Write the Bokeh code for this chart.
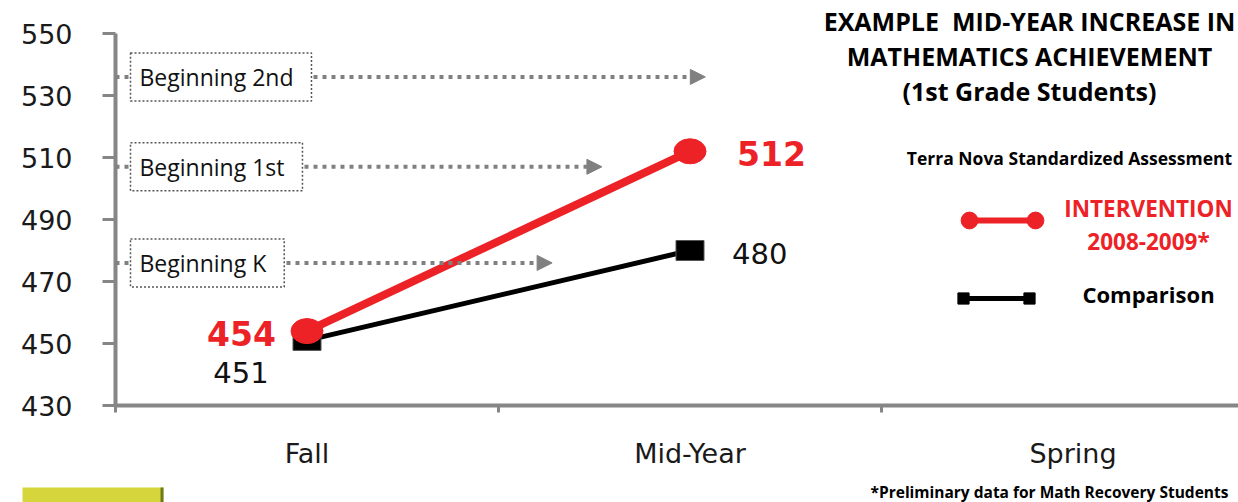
import numpy as np
from bokeh.plotting import figure
from bokeh.layouts import column
from bokeh.models import (FixedTicker, Label, Arrow, NormalHead, Legend, LegendItem, Range1d)
from bokeh.core.properties import value
from bokeh.embed import file_html
from bokeh.resources import INLINE

# ---- data ----
categories = ["Fall", "Mid-Year", "Spring"]
intervention = [454, 512]
comparison = [451, 480]
y_ticks = [430, 450, 470, 490, 510, 530, 550]
ref_labels = ["Beginning 2nd", "Beginning 1st", "Beginning K"]
ref_values = [536, 507, 476]
ref_arrow_end = [1.54, 1.27, 1.14]

RED = "#ed2227"
GRAY = "#808080"
AXG = "#868686"

cat_x = [i + 0.5 for i in range(len(categories))]
n = len(intervention)

# frame: left edge at 115 px, bottom (430) at 405 px, 550 at 33 px; frame reaches the top
W, H, STRIP = 1238, 480, 22
FRAME_LEFT = 115
px_per_unit = (405 - 33) / (y_ticks[-1] - y_ticks[0])
p = figure(width=W, height=H, output_backend="svg", toolbar_location=None,
           x_range=Range1d(0, (W - FRAME_LEFT) / 383),
           y_range=Range1d(y_ticks[0], y_ticks[-1] + 33 / px_per_unit),
           min_border_left=FRAME_LEFT, min_border_right=0, min_border_top=0,
           min_border_bottom=H - 405)
p.title = None
p.outline_line_color = None
p.xgrid.grid_line_color = None
p.ygrid.grid_line_color = None
p.background_fill_color = "white"
p.border_fill_color = "white"

# screen helpers (frame-relative)
def sx(px):
    return px - FRAME_LEFT

def sy(py):
    return 405 - py

# y axis
ya = p.yaxis[0]
ya.ticker = FixedTicker(ticks=y_ticks)
ya.bounds = (y_ticks[0], y_ticks[-1])
ya.axis_line_color = AXG
ya.axis_line_width = 4
ya.major_tick_line_color = AXG
ya.major_tick_line_width = 3
ya.major_tick_out = 13
ya.major_tick_in = 0
ya.minor_tick_line_color = None
ya.major_label_text_font = "DejaVu Sans"
ya.major_label_text_font_size = "27px"
ya.major_label_text_color = "#1a1a1a"
ya.major_label_standoff = 30

# x axis
xa = p.xaxis[0]
xa.ticker = FixedTicker(ticks=cat_x, minor_ticks=list(range(len(categories) + 1)))
xa.major_label_overrides = {x: c for x, c in zip(cat_x, categories)}
xa.axis_line_color = AXG
xa.axis_line_width = 4
xa.major_tick_out = 0
xa.major_tick_in = 0
xa.major_tick_line_color = None
xa.minor_tick_line_color = AXG
xa.minor_tick_line_width = 3
xa.minor_tick_out = 7
xa.minor_tick_in = 0
xa.major_label_text_font = "DejaVu Sans"
xa.major_label_text_font_size = "27px"
xa.major_label_text_color = "#1a1a1a"
xa.major_label_standoff = 25

# reference arrows and boxed labels
for lab, v, xe in zip(ref_labels, ref_values, ref_arrow_end):
    p.add_layout(Arrow(x_start=0, y_start=v, x_end=xe, y_end=v,
                       line_color=GRAY, line_width=4, line_dash="4 5",
                       end=NormalHead(size=15, fill_color=GRAY, line_color=GRAY)))
    p.add_layout(Label(x=0, y=v, text=lab, x_offset=15, text_baseline="middle",
                       text_align="left", text_font="Open Sans", text_font_size="23px",
                       text_color="#111111",
                       padding=dict(left=9, right=18, top=8, bottom=8),
                       border_line_color="#555555", border_line_dash="2 2", border_line_width=1.5,
                       background_fill_color="white"))

# series
p.line(cat_x[:n], comparison, line_color="black", line_width=5)
p.rect(cat_x[:n], comparison, width=28, height=20, width_units="screen", height_units="screen",
       fill_color="black", line_color="#555555", line_width=1)
p.line(cat_x[:n], intervention, line_color=RED, line_width=8)
p.ellipse(cat_x[:n], intervention, width=32, height=25, width_units="screen", height_units="screen",
          fill_color=RED, line_color=RED)

# data labels
p.text(x=[cat_x[0]], y=[intervention[0]], text=[str(intervention[0])], x_offset=-31, y_offset=2,
       text_align="right", text_baseline="middle", text_font=value("DejaVu Sans"),
       text_font_style="bold", text_font_size="33px", text_color=RED)
p.text(x=[cat_x[1]], y=[intervention[1]], text=[str(intervention[1])], x_offset=47, y_offset=2,
       text_align="left", text_baseline="middle", text_font=value("DejaVu Sans"),
       text_font_style="bold", text_font_size="33px", text_color=RED)
p.text(x=[cat_x[0]], y=[comparison[0]], text=[str(comparison[0])], x_offset=-66, y_offset=32,
       text_align="center", text_baseline="middle", text_font=value("DejaVu Sans"),
       text_font_size="29px", text_color="#111111")
p.text(x=[cat_x[1]], y=[comparison[1]], text=[str(comparison[1])], x_offset=42, y_offset=3,
       text_align="left", text_baseline="middle", text_font=value("DejaVu Sans"),
       text_font_size="29px", text_color="#111111")

# title block and subtitle
title_lines = ["EXAMPLE\u00a0 MID-YEAR INCREASE IN", "MATHEMATICS ACHIEVEMENT", "(1st Grade Students)"]
for i, t in enumerate(title_lines):
    p.add_layout(Label(x=sx(1029), y=sy(20 + 35 * i), x_units="screen", y_units="screen", text=t,
                       text_align="center", text_baseline="middle", text_font="Open Sans",
                       text_font_style="bold", text_font_size="25px", text_color="black"))
p.add_layout(Label(x=sx(1069), y=sy(157), x_units="screen", y_units="screen",
                   text="Terra Nova Standardized Assessment",
                   text_align="center", text_baseline="middle", text_font="Open Sans",
                   text_font_style="bold", text_font_size="17.5px", text_color="black"))

# legend swatches: dummy renderers holding one NaN point (draw nothing in the plot)
nanx = np.array([np.nan])
red_line = p.line(x=nanx, y=nanx, line_color=RED, line_width=6)
red_dot = p.scatter(x=nanx, y=nanx, marker="circle", fill_color=RED, line_color=RED)
blk_line = p.line(x=nanx, y=nanx, line_color="black", line_width=5)
blk_sq = p.scatter(x=nanx, y=nanx, marker="square", fill_color="black", line_color="black")

common = dict(padding=0, margin=0, label_standoff=0, label_width=0, label_height=0,
              label_text_font_size="1px", border_line_color=None, background_fill_alpha=0)
# intervention: line between two circles (centres 969 and 1035, y 220)
p.add_layout(Legend(items=[LegendItem(label=" ", renderers=[red_line])],
                    location=(sx(969), sy(220) - 10), glyph_width=66, glyph_height=20,
                    spacing=0, **common))
p.add_layout(Legend(items=[LegendItem(label=" ", renderers=[red_dot]),
                           LegendItem(label=" ", renderers=[red_dot])],
                    orientation="horizontal", location=(sx(969) - 21, sy(220) - 21),
                    glyph_width=42, glyph_height=42, spacing=24, **common))
# comparison: line between two squares (centres 963 and 1029, y 298)
p.add_layout(Legend(items=[LegendItem(label=" ", renderers=[blk_line])],
                    location=(sx(963), sy(298) - 10), glyph_width=66, glyph_height=20,
                    spacing=0, **common))
p.add_layout(Legend(items=[LegendItem(label=" ", renderers=[blk_sq]),
                           LegendItem(label=" ", renderers=[blk_sq])],
                    orientation="horizontal", location=(sx(963) - 14, sy(298) - 14),
                    glyph_width=28, glyph_height=28, spacing=38, **common))

p.add_layout(Label(x=sx(1148), y=sy(208), x_units="screen", y_units="screen", text="INTERVENTION",
                   text_align="center", text_baseline="middle", text_font="Open Sans",
                   text_font_style="bold", text_font_size="22.5px", text_color=RED))
p.add_layout(Label(x=sx(1148), y=sy(241), x_units="screen", y_units="screen", text="2008-2009*",
                   text_align="center", text_baseline="middle", text_font="Open Sans",
                   text_font_style="bold", text_font_size="22.5px", text_color=RED))
p.add_layout(Label(x=sx(1148), y=sy(293), x_units="screen", y_units="screen", text="Comparison",
                   text_align="center", text_baseline="middle", text_font="Open Sans",
                   text_font_style="bold", text_font_size="22px", text_color="black"))

# bottom strip: logo swatch and footnote, in page-pixel space of the strip
q = figure(width=W, height=STRIP, output_backend="svg", toolbar_location=None,
           x_range=Range1d(FRAME_LEFT, W), y_range=Range1d(0, STRIP),
           x_axis_location=None, y_axis_location=None, min_border=0)
if "frame_align" in q.properties():
    # let the strip use its whole width instead of aligning with the main frame
    q.frame_align = False
    q.x_range = Range1d(0, W)
q.title = None
q.outline_line_color = None
q.xgrid.grid_line_color = None
q.ygrid.grid_line_color = None
q.quad(left=[22], right=[163], bottom=[0], top=[STRIP - 7], fill_color="#d6d63c",
       line_color=None)
q.quad(left=[160], right=[163], bottom=[0], top=[STRIP - 7], fill_color="#6f7a1e",
       line_color=None)
q.text(x=[870], y=[STRIP - 11], text=["*Preliminary data for Math Recovery Students"],
       text_align="left", text_baseline="middle", text_font=value("Open Sans"),
       text_font_style="bold", text_font_size="15.5px", text_color="black")

layout = column(p, q, spacing=0)
open("out.html", "w").write(file_html(layout, INLINE))
